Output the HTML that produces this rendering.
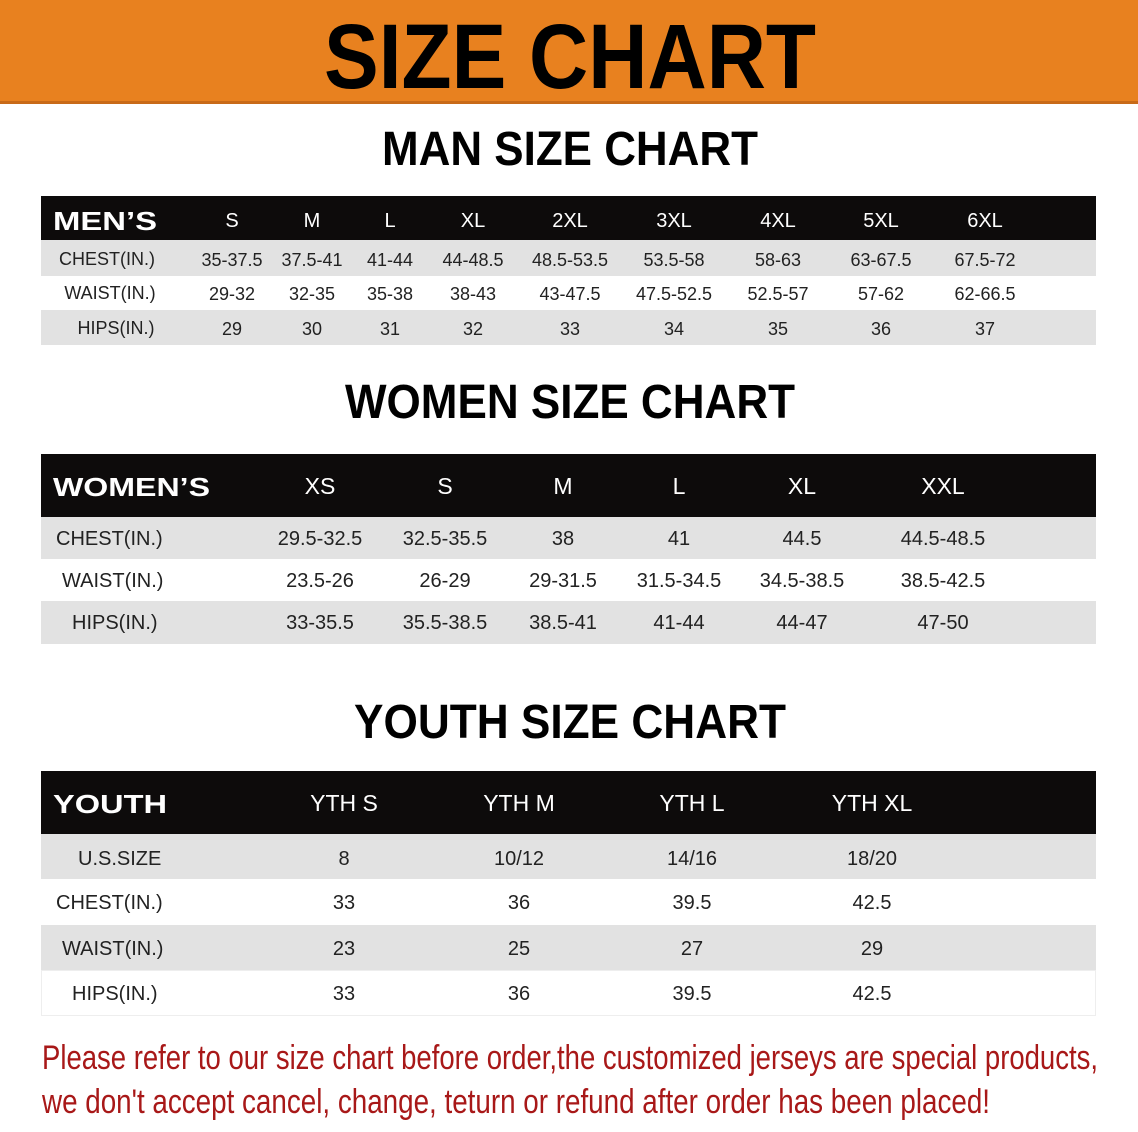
<!DOCTYPE html>
<html><head><meta charset="utf-8"><style>
html,body{margin:0;padding:0;background:#fff;}
svg{display:block;}
.h{font-family:"Liberation Sans",sans-serif;font-weight:bold;fill:#fff;}
.hn{font-family:"Liberation Sans",sans-serif;font-weight:normal;fill:#fff;text-anchor:middle;}
.c{font-family:"Liberation Sans",sans-serif;fill:#222;text-anchor:middle;}
.t{font-family:"Liberation Sans",sans-serif;font-weight:bold;fill:#000;text-anchor:middle;}
.r{font-family:"Liberation Sans Narrow","Liberation Sans",sans-serif;fill:#a81818;}
</style></head><body>
<svg width="1138" height="1132" xmlns="http://www.w3.org/2000/svg">
<rect x="0" y="0" width="1138" height="103" fill="#E8811F"/>
<rect x="0" y="101" width="1138" height="3" fill="#c86a18"/>
<text x="570" y="88" class="t" font-size="92" font-family="Liberation Sans Narrow" textLength="492" lengthAdjust="spacingAndGlyphs" fill="#1a1a1a">SIZE CHART</text>

<text x="570" y="165" class="t" font-size="48" textLength="376" lengthAdjust="spacingAndGlyphs">MAN SIZE CHART</text>
<rect x="41" y="196" width="1055" height="44" fill="#0d0b0b"/>
<rect x="41" y="240" width="1055" height="36" fill="#e2e2e2"/>
<rect x="41" y="310" width="1055" height="35" fill="#e2e2e2"/>
<text x="53" y="230" class="h" font-size="26" textLength="104" lengthAdjust="spacingAndGlyphs">MEN’S</text>
<g class="hn" font-size="20">
<text x="232" y="227">S</text><text x="312" y="227">M</text><text x="390" y="227">L</text><text x="473" y="227">XL</text><text x="570" y="227">2XL</text><text x="674" y="227">3XL</text><text x="778" y="227">4XL</text><text x="881" y="227">5XL</text><text x="985" y="227">6XL</text>
</g>
<g class="c" font-size="18">
<text x="107" y="265">CHEST(IN.)</text><text x="232" y="266">35-37.5</text><text x="312" y="266">37.5-41</text><text x="390" y="266">41-44</text><text x="473" y="266">44-48.5</text><text x="570" y="266">48.5-53.5</text><text x="674" y="266">53.5-58</text><text x="778" y="266">58-63</text><text x="881" y="266">63-67.5</text><text x="985" y="266">67.5-72</text>
<text x="110" y="299">WAIST(IN.)</text><text x="232" y="300">29-32</text><text x="312" y="300">32-35</text><text x="390" y="300">35-38</text><text x="473" y="300">38-43</text><text x="570" y="300">43-47.5</text><text x="674" y="300">47.5-52.5</text><text x="778" y="300">52.5-57</text><text x="881" y="300">57-62</text><text x="985" y="300">62-66.5</text>
<text x="116" y="334">HIPS(IN.)</text><text x="232" y="335">29</text><text x="312" y="335">30</text><text x="390" y="335">31</text><text x="473" y="335">32</text><text x="570" y="335">33</text><text x="674" y="335">34</text><text x="778" y="335">35</text><text x="881" y="335">36</text><text x="985" y="335">37</text>
</g>

<text x="570" y="418" class="t" font-size="48" textLength="450" lengthAdjust="spacingAndGlyphs">WOMEN SIZE CHART</text>
<rect x="41" y="454" width="1055" height="63" fill="#0d0b0b"/>
<rect x="41" y="517" width="1055" height="42" fill="#e2e2e2"/>
<rect x="41" y="601" width="1055" height="43" fill="#e2e2e2"/>
<text x="53" y="496" class="h" font-size="26" textLength="157" lengthAdjust="spacingAndGlyphs">WOMEN’S</text>
<g class="hn" font-size="23">
<text x="320" y="494">XS</text><text x="445" y="494">S</text><text x="563" y="494">M</text><text x="679" y="494">L</text><text x="802" y="494">XL</text><text x="943" y="494">XXL</text>
</g>
<g class="c" font-size="20">
<text x="56" y="545" text-anchor="start">CHEST(IN.)</text><text x="320" y="545">29.5-32.5</text><text x="445" y="545">32.5-35.5</text><text x="563" y="545">38</text><text x="679" y="545">41</text><text x="802" y="545">44.5</text><text x="943" y="545">44.5-48.5</text>
<text x="62" y="587" text-anchor="start">WAIST(IN.)</text><text x="320" y="587">23.5-26</text><text x="445" y="587">26-29</text><text x="563" y="587">29-31.5</text><text x="679" y="587">31.5-34.5</text><text x="802" y="587">34.5-38.5</text><text x="943" y="587">38.5-42.5</text>
<text x="72" y="629" text-anchor="start">HIPS(IN.)</text><text x="320" y="629">33-35.5</text><text x="445" y="629">35.5-38.5</text><text x="563" y="629">38.5-41</text><text x="679" y="629">41-44</text><text x="802" y="629">44-47</text><text x="943" y="629">47-50</text>
</g>

<text x="570" y="738" class="t" font-size="48" textLength="432" lengthAdjust="spacingAndGlyphs">YOUTH SIZE CHART</text>
<rect x="41" y="771" width="1055" height="63" fill="#0d0b0b"/>
<rect x="41" y="834" width="1055" height="45" fill="#e2e2e2"/>
<rect x="41" y="925" width="1055" height="45" fill="#e2e2e2"/>
<rect x="41.5" y="970.5" width="1054" height="45" fill="none" stroke="#eee"/>
<text x="53" y="813" class="h" font-size="26" textLength="114" lengthAdjust="spacingAndGlyphs">YOUTH</text>
<g class="hn" font-size="23">
<text x="344" y="811">YTH S</text><text x="519" y="811">YTH M</text><text x="692" y="811">YTH L</text><text x="872" y="811">YTH XL</text>
</g>
<g class="c" font-size="20">
<text x="78" y="865" text-anchor="start">U.S.SIZE</text><text x="344" y="865">8</text><text x="519" y="865">10/12</text><text x="692" y="865">14/16</text><text x="872" y="865">18/20</text>
<text x="56" y="909" text-anchor="start">CHEST(IN.)</text><text x="344" y="909">33</text><text x="519" y="909">36</text><text x="692" y="909">39.5</text><text x="872" y="909">42.5</text>
<text x="62" y="955" text-anchor="start">WAIST(IN.)</text><text x="344" y="955">23</text><text x="519" y="955">25</text><text x="692" y="955">27</text><text x="872" y="955">29</text>
<text x="72" y="1000" text-anchor="start">HIPS(IN.)</text><text x="344" y="1000">33</text><text x="519" y="1000">36</text><text x="692" y="1000">39.5</text><text x="872" y="1000">42.5</text>
</g>

<text x="42" y="1069" class="r" font-size="34" textLength="1056" lengthAdjust="spacingAndGlyphs">Please refer to our size chart before order,the customized jerseys are special products,</text>
<text x="42" y="1113" class="r" font-size="34" textLength="948" lengthAdjust="spacingAndGlyphs">we don't accept cancel, change, teturn or refund after order has been placed!</text>
</svg>
</body></html>
